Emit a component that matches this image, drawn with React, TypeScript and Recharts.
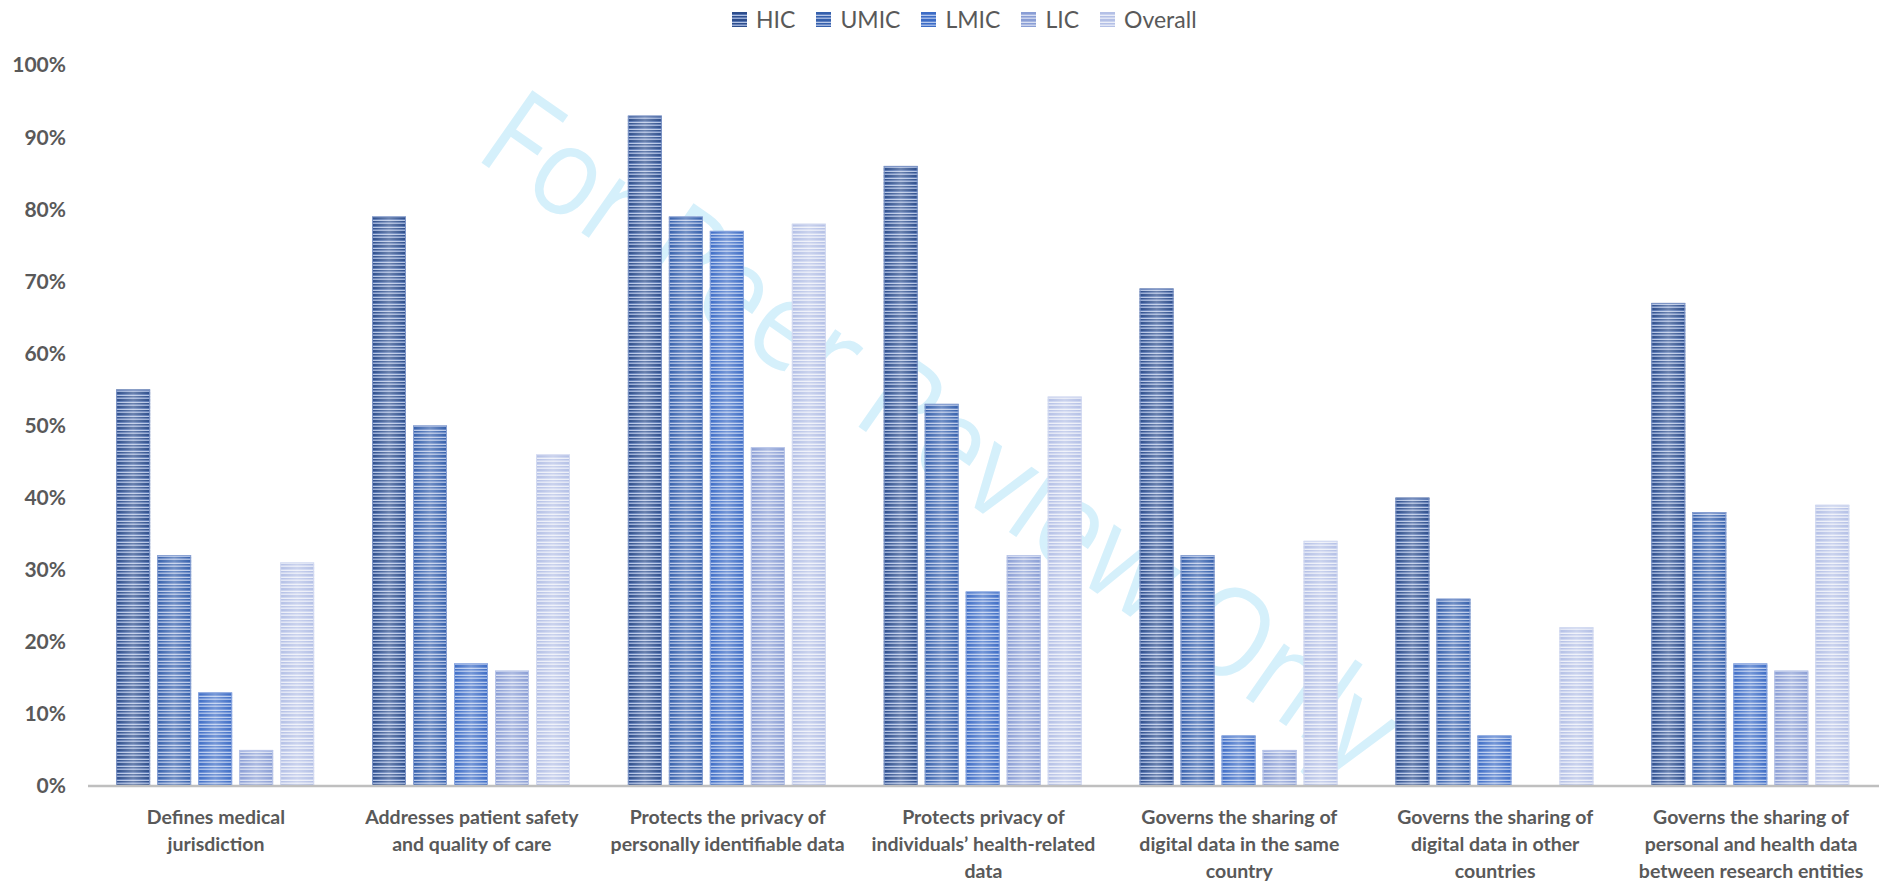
import React from "react";
import { BarChart, Bar, XAxis, YAxis } from "recharts";

// Share of policies covering each area, by country income group (%)
const categories = [
  "Defines medical jurisdiction",
  "Addresses patient safety and quality of care",
  "Protects the privacy of personally identifiable data",
  "Protects privacy of individuals’ health-related data",
  "Governs the sharing of digital data in the same country",
  "Governs the sharing of digital data in other countries",
  "Governs the sharing of personal and health data between research entities",
];

const categoryLines = [
  ["Defines medical", "jurisdiction"],
  ["Addresses patient safety", "and quality of care"],
  ["Protects the privacy of", "personally identifiable data"],
  ["Protects privacy of", "individuals’ health-related", "data"],
  ["Governs the sharing of", "digital data in the same", "country"],
  ["Governs the sharing of", "digital data in other", "countries"],
  ["Governs the sharing of", "personal and health data", "between research entities"],
];

const hic = [55, 79, 93, 86, 69, 40, 67];
const umic = [32, 50, 79, 53, 32, 26, 38];
const lmic = [13, 17, 77, 27, 7, 7, 17];
const lic = [5, 16, 47, 32, 5, 0, 16];
const overall = [31, 46, 78, 54, 34, 22, 39];

const yTicks = [0, 10, 20, 30, 40, 50, 60, 70, 80, 90, 100];

const series = [
  { key: "HIC", values: hic, dark: "#2C4D8C", mid: "#5675B3", light: "#B3C3E3", edge: "#7E95C6" },
  { key: "UMIC", values: umic, dark: "#3560AC", mid: "#5F80C0", light: "#B8C8E8", edge: "#88A0D2" },
  { key: "LMIC", values: lmic, dark: "#3C6CC6", mid: "#6288D2", light: "#B5C9EE", edge: "#8AA6DF" },
  { key: "LIC", values: lic, dark: "#8A9ED5", mid: "#A6B5E0", light: "#D8DFF2", edge: "#B9C5E8" },
  { key: "Overall", values: overall, dark: "#B4C0E6", mid: "#C9D2EE", light: "#EBEEF8", edge: "#D3DAF1" },
];

const rows = categories.map((name, i) => {
  const row: Record<string, number | string> = { name, idx: i };
  series.forEach((s) => {
    row[s.key] = s.values[i];
  });
  return row;
});

const FONT = "Lato, 'Noto Sans', sans-serif";
const TEXT = "#595959";

function StripedBar(seriesKey: string) {
  return (props: any) => {
    const { x, y, width, height } = props;
    if (!height || height <= 0) return <g />;
    const s = series.find((d) => d.key === seriesKey)!;
    return (
      <g>
        <rect x={x} y={y} width={width} height={height} fill={`url(#stripe-${seriesKey})`} />
        <rect x={x} y={y} width={width} height={height} fill="url(#sheen)" />
        <rect
          x={x + 0.5}
          y={y + 0.5}
          width={width - 1}
          height={height - 1}
          fill="none"
          stroke={s.edge}
          strokeWidth={1}
        />
      </g>
    );
  };
}

function CategoryTick(props: any) {
  const { x, y, payload } = props;
  const lines = categoryLines[payload.index] || [String(payload.value)];
  return (
    <g transform={`translate(${x},${y})`}>
      {lines.map((line, i) => (
        <text
          key={i}
          x={0}
          y={30 + i * 27}
          textAnchor="middle"
          fontFamily={FONT}
          fontWeight={700}
          fontSize={19.5}
          fill={TEXT}
        >
          {line}
        </text>
      ))}
    </g>
  );
}

function LegendRow() {
  return (
    <div
      style={{
        position: "absolute",
        top: 5,
        left: 732,
        display: "flex",
        fontFamily: FONT,
        fontSize: 23,
        lineHeight: "28px",
        color: TEXT,
        gap: 21,
      }}
    >
      {series.map((s) => (
        <div key={s.key} style={{ display: "flex", alignItems: "center", gap: 9 }}>
          <svg width={15} height={15}>
            <rect x={0} y={0} width={15} height={15} fill={`url(#stripe-${s.key})`} />
          </svg>
          <span>{s.key}</span>
        </div>
      ))}
    </div>
  );
}

export default function App() {
  return (
    <div style={{ position: "absolute", left: 0, top: 0, width: 1890, height: 883, background: "#fff" }}>
      <svg width={0} height={0} style={{ position: "absolute" }}>
        <defs>
          {series.map((s) => (
            <pattern
              key={s.key}
              id={`stripe-${s.key}`}
              patternUnits="userSpaceOnUse"
              width={8}
              height={7}
            >
              <rect x={0} y={0} width={8} height={7} fill={s.light} />
              <rect x={0} y={0} width={8} height={2} fill={s.dark} />
              <rect x={0} y={2} width={8} height={1} fill={s.mid} />
              <rect x={0} y={4} width={8} height={1.5} fill={s.dark} />
              <rect x={0} y={5.5} width={8} height={0.8} fill={s.mid} />
            </pattern>
          ))}
          <linearGradient id="sheen" x1="0" y1="0" x2="1" y2="0">
            <stop offset="0" stopColor="#ffffff" stopOpacity={0} />
            <stop offset="0.5" stopColor="#ffffff" stopOpacity={0.3} />
            <stop offset="1" stopColor="#ffffff" stopOpacity={0} />
          </linearGradient>
        </defs>
      </svg>

      {/* watermark behind the plot */}
      <svg width={1890} height={883} style={{ position: "absolute", left: 0, top: 0 }}>
        <text
          x={945}
          y={428}
          textAnchor="middle"
          dominantBaseline="central"
          transform="rotate(35 945 428)"
          fontFamily="'Open Sans', Lato, sans-serif"
          fontWeight={400}
          fontSize={124}
          fill="#D5F0FB"
          textLength={1085}
          lengthAdjust="spacingAndGlyphs"
        >
          For Peer Review Only
        </text>
      </svg>

      <div style={{ position: "absolute", left: 0, top: 0 }}>
        <BarChart
          width={1890}
          height={883}
          data={rows}
          margin={{ top: 65, right: 11, bottom: 0, left: 0 }}
          barCategoryGap="11%"
          barGap={7}
        >
          <XAxis
            dataKey="name"
            height={97}
            interval={0}
            tickLine={false}
            axisLine={{ stroke: "#BFBFBF", strokeWidth: 2.5 }}
            tick={<CategoryTick />}
          />
          <YAxis
            width={88}
            domain={[0, 100]}
            ticks={yTicks}
            interval={0}
            axisLine={false}
            tickLine={false}
            tickSize={0}
            tickMargin={22}
            tickFormatter={(v: number) => `${v}%`}
            tick={{ fontFamily: FONT, fontWeight: 700, fontSize: 21, fill: TEXT }}
          />
          {series.map((s) => (
            <Bar
              key={s.key}
              dataKey={s.key}
              isAnimationActive={false}
              shape={StripedBar(s.key)}
            />
          ))}
        </BarChart>
      </div>

      <LegendRow />
    </div>
  );
}
